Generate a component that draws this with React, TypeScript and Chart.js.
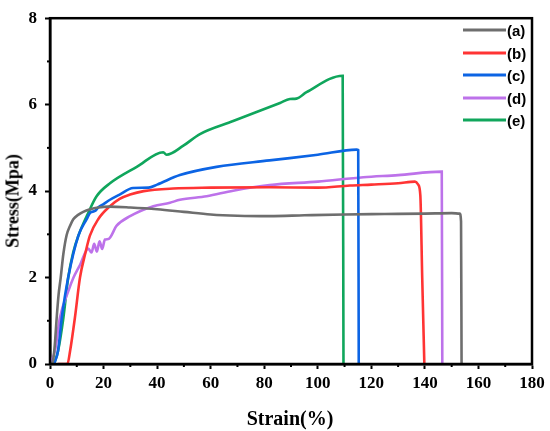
import { useEffect, useRef } from "react";
import { Chart, registerables, type Plugin } from "chart.js";

Chart.register(...registerables);

/* Strain (%) / stress (MPa) */
const strainA = [0.5, 1.2, 1.8, 2.5, 3.2, 4, 5, 6.2, 7.5, 8.7, 10.5, 12.4, 15, 18, 22, 30, 40, 50, 60, 70, 82, 95, 110, 125, 140, 150, 153, 153.5, 153.7];
const stressA = [0, 0.1, 0.45, 1.07, 1.6, 2.0, 2.55, 2.98, 3.2, 3.35, 3.45, 3.52, 3.58, 3.62, 3.64, 3.62, 3.58, 3.52, 3.46, 3.43, 3.42, 3.44, 3.46, 3.47, 3.48, 3.49, 3.48, 3.3, 0];

const strainB = [3, 6.5, 7.5, 9.3, 11.2, 13.3, 14.9, 18, 22.4, 26, 29.9, 35, 46, 60, 82, 100, 112, 120, 130, 136.3, 137.5, 138.3, 139, 139.8];
const stressB = [0, 0, 0.3, 1.07, 2.0, 2.59, 2.97, 3.35, 3.65, 3.82, 3.92, 4.0, 4.06, 4.08, 4.09, 4.08, 4.13, 4.15, 4.18, 4.22, 4.15, 3.9, 2.0, 0];

const strainC = [1.5, 3, 4.4, 6.8, 10.6, 13.7, 15, 16.8, 18, 20, 22.4, 26, 31, 36.8, 40, 48.5, 62.2, 82, 100, 114.5, 115.1, 115.3];
const stressC = [0, 0.3, 1.07, 2.0, 2.97, 3.35, 3.5, 3.54, 3.62, 3.7, 3.8, 3.92, 4.07, 4.08, 4.15, 4.37, 4.56, 4.71, 4.84, 4.96, 4.95, 0];

const strainD = [0, 1.9, 3.7, 6.8, 8.7, 11.2, 14.3, 15.5, 16.5, 17.5, 18.5, 19.5, 20.5, 21.8, 24.9, 29.9, 38.6, 44.8, 48.5, 58.5, 68.4, 82, 100, 117, 130, 146.3, 146.5];
const stressD = [0, 0.32, 1.07, 1.68, 1.99, 2.29, 2.67, 2.58, 2.78, 2.6, 2.84, 2.66, 2.88, 2.89, 3.2, 3.42, 3.65, 3.73, 3.8, 3.88, 4.01, 4.14, 4.22, 4.32, 4.37, 4.45, 0];

const strainE = [1.5, 3, 5, 6.8, 8.7, 10.6, 14.3, 17.4, 22.4, 32.4, 42.3, 43.5, 49.8, 56, 68.4, 85.9, 89.6, 92, 95.8, 109.3, 109.6];
const stressE = [0, 0.3, 1.07, 2.0, 2.59, 2.97, 3.5, 3.88, 4.18, 4.56, 4.9, 4.84, 5.05, 5.32, 5.62, 6.04, 6.13, 6.14, 6.29, 6.67, 0];

const seriesLabels = ["(a)", "(b)", "(c)", "(d)", "(e)"];
const seriesColors = ["#6e6e6e", "#ff3434", "#0c64e4", "#bd72ea", "#10a65c"];
const seriesStrain = [strainA, strainB, strainC, strainD, strainE];
const seriesStress = [stressA, stressB, stressC, stressD, stressE];

const serif = "'Liberation Serif', 'Times New Roman', serif";

/* frame on all four sides + short minor ticks */
const framePlugin: Plugin = {
  id: "frame",
  afterDraw(chart) {
    const { ctx, chartArea: a, scales } = chart;
    ctx.save();
    ctx.strokeStyle = "#000";
    ctx.lineWidth = 2;
    // minor ticks
    for (let v = 10; v < 180; v += 20) {
      const px = scales.x.getPixelForValue(v);
      ctx.beginPath();
      ctx.moveTo(px, a.bottom);
      ctx.lineTo(px, a.bottom + 3);
      ctx.stroke();
    }
    for (let v = 1; v < 8; v += 2) {
      const py = scales.y.getPixelForValue(v);
      ctx.beginPath();
      ctx.moveTo(a.left, py);
      ctx.lineTo(a.left - 3, py);
      ctx.stroke();
    }
    ctx.lineWidth = 2.5;
    ctx.strokeRect(a.left, a.top, a.right - a.left, a.bottom - a.top);
    ctx.restore();
  },
};

export default function App() {
  const canvasRef = useRef<HTMLCanvasElement>(null);

  useEffect(() => {
    if (!canvasRef.current) return;
    const chart = new Chart(canvasRef.current, {
      type: "scatter",
      data: {
        datasets: seriesLabels.map((label, i) => ({
          label,
          data: seriesStrain[i].map((x, j) => ({ x, y: seriesStress[i][j] })),
          showLine: true,
          borderColor: seriesColors[i],
          backgroundColor: seriesColors[i],
          borderWidth: 2.6,
          pointRadius: 0,
          cubicInterpolationMode: "monotone" as const,
        })),
      },
      options: {
        animation: false,
        responsive: false,
        devicePixelRatio: 1,
        layout: { padding: { top: 12, right: 18, left: 0, bottom: 0 } },
        plugins: { legend: { display: false }, tooltip: { enabled: false } },
        scales: {
          x: {
            type: "linear",
            min: 0,
            max: 180,
            afterFit: (s) => { s.height = 67; },
            border: { color: "#000", width: 2.5 },
            grid: {
              drawOnChartArea: false,
              tickLength: 5,
              tickWidth: 2,
              tickColor: (c) => (c.tick && c.tick.value % 20 === 0 ? "#000" : "rgba(0,0,0,0)"),
            },
            ticks: {
              stepSize: 10,
              autoSkip: false,
              maxRotation: 0,
              padding: 4,
              color: "#000",
              font: { family: serif, size: 17, weight: "bold" },
              callback: (v) => (Number(v) % 20 === 0 ? String(v) : ""),
            },
          },
          y: {
            type: "linear",
            min: 0,
            max: 8,
            afterFit: (s) => { s.width = 50; },
            border: { color: "#000", width: 2.5 },
            grid: {
              drawOnChartArea: false,
              tickLength: 5,
              tickWidth: 2,
              tickColor: (c) => (c.tick && c.tick.value % 2 === 0 ? "#000" : "rgba(0,0,0,0)"),
            },
            ticks: {
              stepSize: 1,
              autoSkip: false,
              padding: 8,
              color: "#000",
              font: { family: serif, size: 17, weight: "bold" },
              callback: (v) => (Number(v) % 2 === 0 ? String(v) : ""),
            },
          },
        },
      },
      plugins: [framePlugin],
    });
    return () => chart.destroy();
  }, []);

  return (
    <div style={{ position: "absolute", left: 0, top: 0, width: 550, height: 431, background: "#fff" }}>
      <canvas ref={canvasRef} width={550} height={431} style={{ display: "block" }} />
      {/* axis titles */}
      <div
        style={{
          position: "absolute", left: 13, top: 201, transform: "translate(-50%, -50%) rotate(-90deg)",
          fontFamily: serif, fontWeight: "bold", fontSize: 18, whiteSpace: "nowrap",
        }}
      >
        Stress(Mpa)
      </div>
      <div
        style={{
          position: "absolute", left: 290, top: 418, transform: "translate(-50%, -50%)",
          fontFamily: serif, fontWeight: "bold", fontSize: 20, whiteSpace: "nowrap",
        }}
      >
        Strain(%)
      </div>
      {/* legend */}
      {seriesLabels.map((label, i) => (
        <div
          key={label}
          style={{ position: "absolute", left: 463, top: 30 + i * 22.5, transform: "translateY(-50%)", display: "flex", alignItems: "center" }}
        >
          <span style={{ display: "inline-block", width: 43, height: 3, background: seriesColors[i] }} />
          <span style={{ marginLeft: 1, fontFamily: "'Liberation Sans', Arial, sans-serif", fontWeight: "bold", fontSize: 15 }}>
            {label}
          </span>
        </div>
      ))}
    </div>
  );
}
